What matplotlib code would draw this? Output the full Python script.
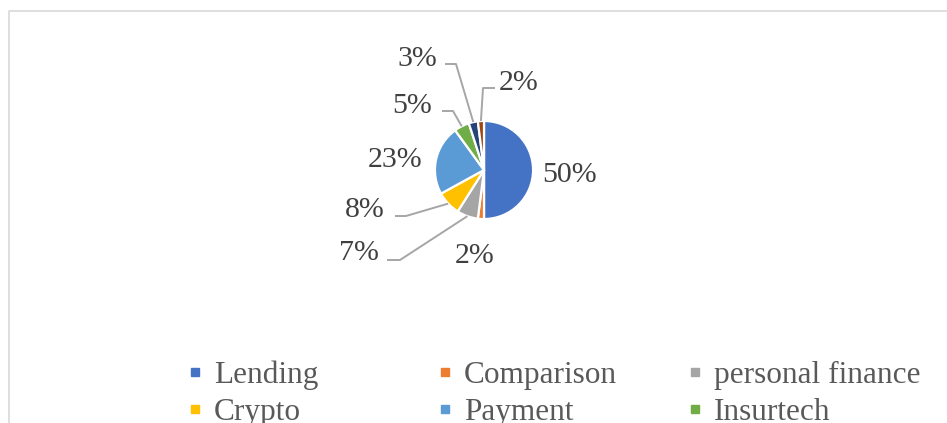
import matplotlib
matplotlib.use("Agg")
import matplotlib.pyplot as plt
import numpy as np

# ---- data ----
categories = ["Lending", "Comparison", "personal finance", "Crypto",
              "Payment", "Insurtech", "Wealth management", "Others"]
shares = [50, 2, 7, 8, 23, 5, 3, 2]
colors = ["#4472C4", "#ED7D31", "#A5A5A5", "#FFC000",
          "#5B9BD5", "#70AD47", "#264478", "#9E480E"]
legend_count = 6  # only the first two rows of the legend are visible

W, H = 947, 423
fig = plt.figure(figsize=(W / 100, H / 100), dpi=100)
ax = fig.add_axes([0, 0, 1, 1])

def py(y):
    return H - y

plt.rcParams["font.family"] = ["Liberation Serif", "DejaVu Serif"]

cx, cy, R = 484, 170, 49
explode = [0.06] * len(shares)
wedges, _ = ax.pie(shares, colors=colors, startangle=90, counterclock=False,
                   explode=explode, center=(cx, py(cy)), radius=R,
                   wedgeprops=dict(edgecolor="white", linewidth=1.6),
                   frame=True)
ax.set_xlim(0, W)
ax.set_ylim(0, H)
ax.set_aspect("equal")
ax.axis("off")

# label placement (pixel coords, top origin): text center x, baseline y
label_pos = [(570, 182), (475, 263), (359, 260), (365, 217),
             (395, 167), (412, 113), (417, 66), (519, 90)]
# leader line start & elbow (None = no leader)
leaders = [None, None, ((387, 260), (400, 260)), ((395, 216), (406, 216)),
           None, ((442, 111), (453, 111)), ((445, 64), (456, 64)),
           ((495, 88), (483, 88))]

txt_col = "#404040"
line_col = "#A6A6A6"
for i, w in enumerate(wedges):
    lx, ly = label_pos[i]
    ax.text(lx, py(ly), f"{shares[i]}%", ha="center", va="baseline",
            fontsize=21.5, color=txt_col)
    if leaders[i] is not None:
        (sx, sy), (ex, ey) = leaders[i]
        th = np.deg2rad((w.theta1 + w.theta2) / 2)
        wx = w.center[0] + w.r * np.cos(th)
        wy = w.center[1] + w.r * np.sin(th)
        ax.plot([sx, ex, wx], [py(sy), py(ey), wy], color=line_col,
                lw=1.4, solid_capstyle="butt", zorder=1)

# legend drawn manually in a 3-column grid
for i in range(legend_count):
    r, c = divmod(i, 3)
    mx = 195 + 250 * c
    my = 372 + 37 * r
    ax.plot([mx], [py(my)], marker="s", markersize=5.4, color=colors[i],
            linestyle="none")
    ax.text(mx + 19, py(383 + 37 * r), categories[i], ha="left",
            va="baseline", fontsize=22.5, color="#595959")

# chart frame (left and top edges visible)
ax.plot([8.5, 8.5, W], [0, py(10.5), py(10.5)], color="#D9D9D9", lw=1.2,
        clip_on=False)

fig.savefig("out.png", dpi=100)
